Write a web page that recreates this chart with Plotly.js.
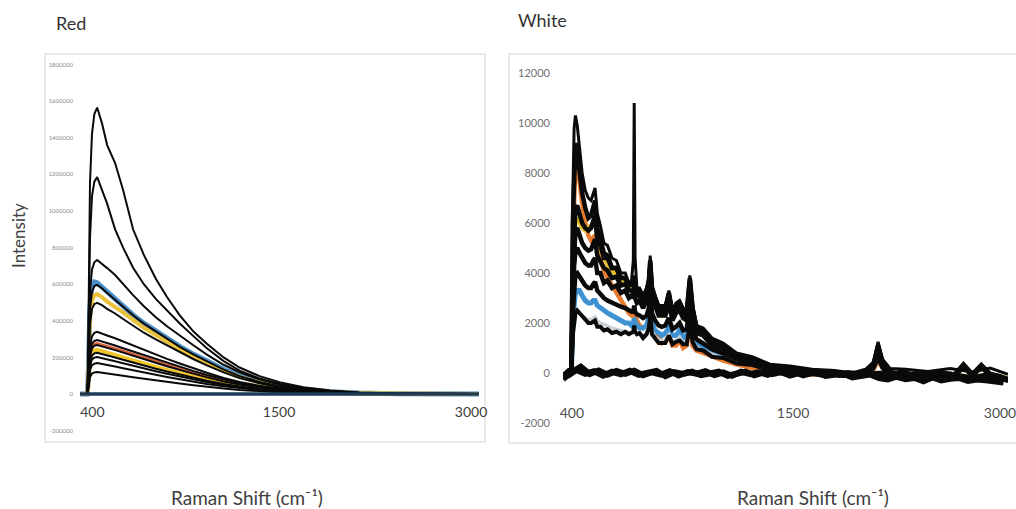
<!DOCTYPE html>
<html><head><meta charset="utf-8">
<script src="https://cdn.plot.ly/plotly-3.0.1.min.js"></script>
<style>html,body{margin:0;padding:0;background:#fff;} #chart{width:1016px;height:509px;}</style>
</head><body><div id="chart"></div>
<script>
// ---------- DATA ----------
// x positions are spectrometer channels (0..1000); tick labels give the Raman shift
const xTickLabels = ["400", "1500", "3000"];
const redTickChannels = [31, 499, 980];
const whiteTickChannels = [20, 517, 982];

const redYTicks = [-200000, 0, 200000, 400000, 600000, 800000, 1000000, 1200000, 1400000, 1600000, 1800000];
const redYTickLabels = ["-200000", "0", "200000", "400000", "600000", "800000", "1000000", "1200000", "1400000", "1600000", "1800000"];
const whiteYTicks = [-2000, 0, 2000, 4000, 6000, 8000, 10000, 12000];
const whiteYTickLabels = ["-2000", "0", "2000", "4000", "6000", "8000", "10000", "12000"];

// Red sample spectra
const redChannel = [0, 18, 20, 22, 25, 30, 36, 43, 55, 68, 88, 108, 133, 160, 190, 218, 250, 285, 318, 360, 400, 450, 500, 560, 627, 700, 800, 1000];
const red1 = [0,0,150000,700000,1150000,1420000,1530000,1565000,1480000,1360000,1262000,1115000,900000,760000,630000,530000,430000,340000,275000,200000,145000,98000,64000,37000,19000,8000,2500,0];
const red2 = [0,0,120000,520000,850000,1080000,1160000,1185000,1120000,1040000,900000,800000,690000,600000,520000,455000,385000,315000,250000,180000,128000,85000,55000,31000,16000,6500,2000,0];
const red3 = [0,0,80000,350000,560000,680000,720000,732000,712000,688000,650000,600000,540000,480000,420000,370000,318000,265000,215000,160000,118000,80000,52000,30000,16000,6000,1800,0];
const red4Blue = [0,0,60000,290000,480000,585000,612000,608000,588000,560000,520000,478000,432000,387000,344000,302000,260000,217000,180000,135000,99000,67000,44000,26000,13000,5000,1500,0];
const red4 = [0,0,60000,280000,460000,560000,590000,596000,578000,552000,515000,475000,430000,385000,342000,300000,258000,215000,178000,133000,98000,66000,43000,25000,13000,5000,1500,0];
const red5Yellow = [0,0,55000,250000,420000,510000,540000,545000,530000,505000,478000,446000,405000,362000,322000,285000,245000,205000,170000,127000,94000,63000,41000,24000,12000,4500,1200,0];
const red5 = [0,0,50000,230000,380000,465000,492000,498000,486000,465000,440000,410000,372000,335000,298000,265000,228000,190000,157000,118000,87000,59000,38000,22000,11000,4200,1200,0];
const red6 = [0,0,35000,160000,260000,315000,335000,340000,332000,320000,305000,287000,265000,240000,215000,192000,167000,140000,116000,88000,66000,45000,30000,17000,9000,3500,1000,0];
const red7 = [0,0,30000,140000,225000,275000,290000,295000,288000,278000,265000,250000,232000,212000,191000,171000,149000,125000,104000,79000,59000,40000,27000,15500,8000,3000,900,0];
const red8Orange = [0,0,28000,130000,212000,258000,272000,276000,270000,260000,248000,234000,216000,197000,177000,158000,137000,115000,95000,72000,54000,37000,25000,14000,7000,2800,800,0];
const red8 = [0,0,27000,125000,205000,250000,264000,268000,262000,252000,240000,226000,208000,189000,170000,152000,132000,110000,91000,69000,52000,35000,23000,13500,7000,2700,800,0];
const red9Yellow = [0,0,24000,112000,185000,225000,238000,242000,236000,226000,214000,200000,183000,165000,148000,132000,114000,95000,78000,59000,44000,30000,20000,11500,6000,2300,700,0];
const red9 = [0,0,22000,105000,172000,210000,222000,226000,220000,211000,200000,187000,171000,154000,138000,123000,106000,88000,73000,55000,41000,28000,19000,10500,5500,2100,600,0];
const red10 = [0,0,20000,95000,155000,189000,199000,202000,197000,189000,179000,168000,154000,139000,125000,111000,96000,80000,66000,50000,37000,25000,17000,9500,5000,1900,500,0];
const red11 = [0,0,17000,80000,130000,158000,166000,169000,165000,158000,150000,141000,129000,117000,105000,93000,80000,67000,55000,42000,31000,21000,14000,8000,4200,1600,400,0];
const red12 = [0,0,12000,57000,92000,112000,118000,120000,117000,112000,107000,100000,92000,83000,75000,66000,57000,48000,39000,30000,22000,15000,10000,5800,3000,1100,300,0];
const redFlat = [0,0,0,0,0,0,0,0,0,0,0,0,0,0,0,0,0,0,0,0,0,0,0,0,0,0,0,0];

// White sample spectra
const whiteChannel = [0,12,19,22,25,28,32,37,43,50,57,63,68,72,77,84,92,100,110,120,130,140,148,154,158,160,162,166,172,180,188,193,196,200,207,215,222,230,238,246,254,262,270,278,285,291,300,315,335,360,390,425,465,510,560,610,650,680,698,708,718,735,770,820,870,920,960,1000];
const white1 = [-200,100,200,7000,9800,10300,9900,9000,8000,7300,7000,6900,7200,7400,6400,5900,5200,5100,4600,4500,4000,4000,3600,3700,4500,10800,4600,3400,3400,3100,3400,3800,4700,3500,3100,2700,2700,2700,3300,2500,2800,2900,2600,2500,3900,2700,1900,1800,1400,1200,800,650,350,280,150,100,0,150,450,1250,550,180,150,60,180,40,200,-50];
const white2Orange = [-100,50,150,5000,7800,8600,8400,7600,6800,6000,5500,5300,5400,5500,4900,4500,4100,3800,3500,3200,2900,2600,2400,2300,2300,2600,2300,2100,1900,1800,1900,2300,3100,2000,1600,1400,1200,1300,1500,1100,1100,1300,1000,1100,2200,1100,900,800,650,500,350,200,100,0,-50,-100,-50,0,150,500,200,0,-100,-150,-100,-200,-150,-250];
const white3Yellow = [-100,0,100,3500,5200,6000,6200,6000,5800,5700,5800,5900,6000,6100,5300,4900,4600,4300,4100,3900,3700,3500,3400,3300,3300,3500,3300,3200,3000,2900,3000,3400,4200,3200,2700,2500,2300,2500,2800,2300,2400,2700,2200,2300,3500,2300,1800,1500,1200,950,700,450,300,150,50,-50,-100,0,300,900,350,50,-50,-100,-50,-150,-50,-200];
const white4 = [-150,50,150,4000,5800,6600,6700,6300,6000,5800,5700,5800,6100,6300,5300,5100,4600,4600,4200,4200,3800,3800,3500,3600,3500,3900,3500,3300,3300,3000,3300,3600,4400,3300,3000,2600,2600,2600,3100,2400,2700,2800,2500,2400,3700,2600,1800,1700,1250,1050,700,550,250,200,0,-20,-140,90,350,1000,400,20,-70,-180,-70,-230,-70,-280];
const white5 = [-100,100,100,3000,4300,4900,5000,4800,4600,4400,4300,4300,4500,4600,4000,4000,3600,3700,3400,3500,3200,3300,3000,3100,3000,3300,3000,2800,2900,2600,2900,3200,4000,2900,2700,2300,2300,2300,2800,2100,2400,2500,2200,2100,3400,2300,1600,1500,1100,950,600,470,220,150,0,-30,-150,60,300,900,300,-30,-90,-210,-90,-250,-90,-300];
const white6Blue = [-100,0,100,2200,2900,3200,3300,3300,3100,2900,2800,2800,2900,2900,2700,2600,2500,2400,2300,2200,2100,2000,2000,1900,2000,2200,2000,1900,1800,1800,1900,2200,2900,2000,1700,1600,1500,1600,1800,1500,1500,1700,1400,1500,2400,1500,1200,1000,850,700,500,350,200,100,0,-50,-100,0,250,700,250,0,-100,-150,-100,-200,-100,-250];
const white7Grey = [-100,0,100,1700,2200,2400,2450,2400,2300,2200,2150,2150,2200,2250,2100,2000,1950,1900,1800,1750,1700,1650,1600,1600,1650,1800,1650,1600,1550,1500,1600,1900,2500,1700,1450,1350,1250,1350,1550,1300,1300,1450,1200,1300,2100,1300,1050,900,750,600,450,300,180,80,0,-50,-100,0,220,650,220,0,-100,-150,-100,-200,-100,-250];
const white8 = [-100,0,100,1500,2100,2400,2500,2400,2250,2100,2000,2000,2050,2100,1850,1850,1700,1750,1600,1650,1550,1650,1550,1600,1650,1900,1650,1550,1600,1400,1550,1800,2400,1550,1400,1200,1200,1200,1500,1150,1250,1300,1150,1150,2000,1250,950,900,650,600,380,320,120,100,-50,-50,-150,10,200,600,200,-50,-90,-200,-90,-250,-90,-300];
const white9 = [-150,80,180,6000,8600,9200,8800,8000,7200,6600,6200,6300,6700,6900,5800,5400,4800,4700,4200,4200,3800,3800,3500,3600,3500,3700,3500,3300,3300,3000,3300,3700,4500,3400,3000,2600,2600,2600,3200,2400,2700,2800,2500,2400,3800,2600,1800,1700,1250,1100,700,550,280,200,30,0,-120,60,380,1100,450,30,-40,-150,-30,-190,-30,-250];
const white10 = [-100,50,100,2500,3500,3950,4000,3850,3650,3500,3400,3400,3550,3650,3300,3150,3000,2900,2800,2750,2650,2600,2500,2450,2450,2700,2450,2350,2300,2200,2300,2600,3300,2400,2100,1900,1850,1900,2200,1750,1850,2000,1700,1750,2700,1750,1350,1200,950,780,560,380,220,100,10,-70,-130,10,260,800,260,-10,-110,-160,-110,-210,-110,-260];
const white11 = [-120,60,120,3500,5100,5700,5800,5500,5200,5000,4900,4950,5200,5350,4700,4500,4200,4100,3800,3850,3500,3550,3300,3300,3250,3600,3250,3100,3100,2850,3100,3400,4200,3100,2850,2450,2450,2450,2950,2250,2550,2650,2350,2250,3550,2450,1700,1600,1180,1000,650,510,230,170,10,-40,-150,70,330,950,350,-10,-80,-200,-80,-240,-80,-290];
// flat (blank) spectra near zero
const baseChannelA = [0,20,40,60,80,100,120,140,160,180,200,220,240,260,280,300,320,340,360,380,400,420,440,460,480,500,520,540,560,580,600,620,640,660,680,700,720,740,760,780,800,820,840,860,880,900,920,940,960,980,1000];
const baseA = [-250,40,250,-40,100,-70,80,-30,90,-90,30,-60,70,-100,40,-30,70,-80,20,-110,50,-40,30,-70,60,-20,30,-90,10,-60,40,-80,0,-40,60,-40,-20,-110,30,-70,-20,-110,30,-60,-100,300,-90,280,-80,-150,-280];
const baseChannelB = [10,30,50,70,90,110,130,150,170,190,210,230,250,270,290,310,330,350,370,390,410,430,450,470,490,510,530,550,570,590,610,630,650,670,690,710,730,750,770,790,810,830,850,870,890,910,930,950,970,990];
const baseB = [-120,120,-30,70,-110,50,-50,90,-70,0,80,-130,30,-40,50,-90,10,50,-110,-30,50,-90,20,-50,40,-100,0,-30,20,-120,-60,-20,-180,-120,-60,-200,-260,-150,-250,-200,-330,-180,-300,-230,-200,-320,-260,-290,-360,-380];

// ---------- LAYOUT HELPERS (pixel -> paper) ----------
const W = 1016, H = 509;
const fx = p => p / W;
const fy = p => 1 - p / H;
const FONT = "Lato, 'Open Sans', sans-serif";

function tr(x, y, color, width, xa, ya) {
  return {type: 'scatter', mode: 'lines', x: x, y: y, xaxis: xa, yaxis: ya,
          line: {color: color, width: width}, hoverinfo: 'skip'};
}
const BLK = '#0a0a0a';
const traces = [
  tr(redChannel, red4Blue, '#4a8fc8', 5, 'x', 'y'),
  tr(redChannel, red5Yellow, '#e9c23a', 4, 'x', 'y'),
  tr(redChannel, red8Orange, '#d9603a', 3, 'x', 'y'),
  tr(redChannel, red9Yellow, '#efc52c', 4, 'x', 'y'),
  tr(redChannel, red1, BLK, 2, 'x', 'y'),
  tr(redChannel, red2, BLK, 2, 'x', 'y'),
  tr(redChannel, red3, BLK, 2, 'x', 'y'),
  tr(redChannel, red4, BLK, 2, 'x', 'y'),
  tr(redChannel, red5, BLK, 2, 'x', 'y'),
  tr(redChannel, red6, BLK, 2, 'x', 'y'),
  tr(redChannel, red7, BLK, 2, 'x', 'y'),
  tr(redChannel, red8, BLK, 2, 'x', 'y'),
  tr(redChannel, red9, BLK, 2, 'x', 'y'),
  tr(redChannel, red10, BLK, 2, 'x', 'y'),
  tr(redChannel, red11, BLK, 2, 'x', 'y'),
  tr(redChannel, red12, BLK, 2, 'x', 'y'),
  tr(redChannel, redFlat, '#1d3a5a', 3.5, 'x', 'y'),

  tr(whiteChannel, white2Orange, '#ea7a2c', 4.5, 'x2', 'y2'),
  tr(whiteChannel, white3Yellow, '#e8c12a', 4, 'x2', 'y2'),
  tr(whiteChannel, white6Blue, '#3f92d2', 5, 'x2', 'y2'),
  tr(whiteChannel, white7Grey, '#c9d1d8', 3, 'x2', 'y2'),
  tr(whiteChannel, white9, BLK, 4.5, 'x2', 'y2'),
  tr(whiteChannel, white4, BLK, 4.5, 'x2', 'y2'),
  tr(whiteChannel, white11, BLK, 4.5, 'x2', 'y2'),
  tr(whiteChannel, white5, BLK, 4.5, 'x2', 'y2'),
  tr(whiteChannel, white10, BLK, 4.5, 'x2', 'y2'),
  tr(whiteChannel, white8, BLK, 4, 'x2', 'y2'),
  tr(whiteChannel, white1, BLK, 3, 'x2', 'y2'),
  tr(baseChannelA, baseA, BLK, 6, 'x2', 'y2'),
  tr(baseChannelB, baseB, BLK, 6, 'x2', 'y2')
];

const layout = {
  width: W, height: H,
  margin: {l: 0, r: 0, t: 0, b: 0},
  paper_bgcolor: '#ffffff', plot_bgcolor: 'rgba(0,0,0,0)',
  showlegend: false,
  font: {family: FONT, color: '#404040'},
  xaxis: {
    domain: [fx(80), fx(479)], range: [0, 1000], anchor: 'free', position: fy(402),
    tickvals: redTickChannels, ticktext: xTickLabels, ticks: '', showgrid: false, zeroline: false, showline: false,
    tickfont: {size: 14, color: '#404040', family: FONT}, ticklabeloverflow: 'allow'
  },
  yaxis: {
    domain: [fy(439.8), fy(55.4)], range: [-250000, 1850000], anchor: 'x',
    tickvals: redYTicks, ticktext: redYTickLabels, ticks: '', showgrid: false, zeroline: false, showline: false,
    tickfont: {size: 6, color: '#8a8a8a', family: FONT}, ticklabelstandoff: 6
  },
  xaxis2: {
    domain: [fx(563), fx(1008)], range: [0, 1000], anchor: 'free', position: fy(403),
    tickvals: whiteTickChannels, ticktext: xTickLabels, ticks: '', showgrid: false, zeroline: false, showline: false,
    tickfont: {size: 14, color: '#505050', family: FONT}, ticklabeloverflow: 'allow'
  },
  yaxis2: {
    domain: [fy(430.5), fy(58)], range: [-2300, 12600], anchor: 'x2',
    tickvals: whiteYTicks, ticktext: whiteYTickLabels, ticks: '', showgrid: false, zeroline: false, showline: false,
    tickfont: {size: 11, color: '#707070', family: FONT}, ticklabelstandoff: 12
  },
  shapes: [
    {type: 'rect', xref: 'paper', yref: 'paper', x0: fx(45), x1: fx(485), y0: fy(442), y1: fy(54),
     line: {color: '#e2e2e2', width: 1.5}, fillcolor: 'rgba(0,0,0,0)', layer: 'below'},
    {type: 'rect', xref: 'paper', yref: 'paper', x0: fx(509), x1: fx(1022), y0: fy(443), y1: fy(54),
     line: {color: '#e2e2e2', width: 1.5}, fillcolor: 'rgba(0,0,0,0)', layer: 'below'}
  ],
  annotations: [
    {text: 'Red', xref: 'paper', yref: 'paper', x: fx(54), y: fy(23), xanchor: 'left', yanchor: 'middle',
     showarrow: false, font: {size: 18, color: '#333333', family: FONT}},
    {text: 'White', xref: 'paper', yref: 'paper', x: fx(516), y: fy(20), xanchor: 'left', yanchor: 'middle',
     showarrow: false, font: {size: 18, color: '#333333', family: FONT}},
    {text: 'Intensity', xref: 'paper', yref: 'paper', x: fx(18), y: fy(236), xanchor: 'center', yanchor: 'middle',
     textangle: -90, showarrow: false, font: {size: 17, color: '#404040', family: FONT}},
    {text: 'Raman Shift (cm\u207B\u00B9)', xref: 'paper', yref: 'paper', x: fx(247), y: fy(497), xanchor: 'center', yanchor: 'middle',
     showarrow: false, font: {size: 19, color: '#404040', family: FONT}},
    {text: 'Raman Shift (cm\u207B\u00B9)', xref: 'paper', yref: 'paper', x: fx(813), y: fy(497), xanchor: 'center', yanchor: 'middle',
     showarrow: false, font: {size: 19, color: '#404040', family: FONT}}
  ]
};

Plotly.newPlot('chart', traces, layout, {displayModeBar: false, staticPlot: true});
</script></body></html>
